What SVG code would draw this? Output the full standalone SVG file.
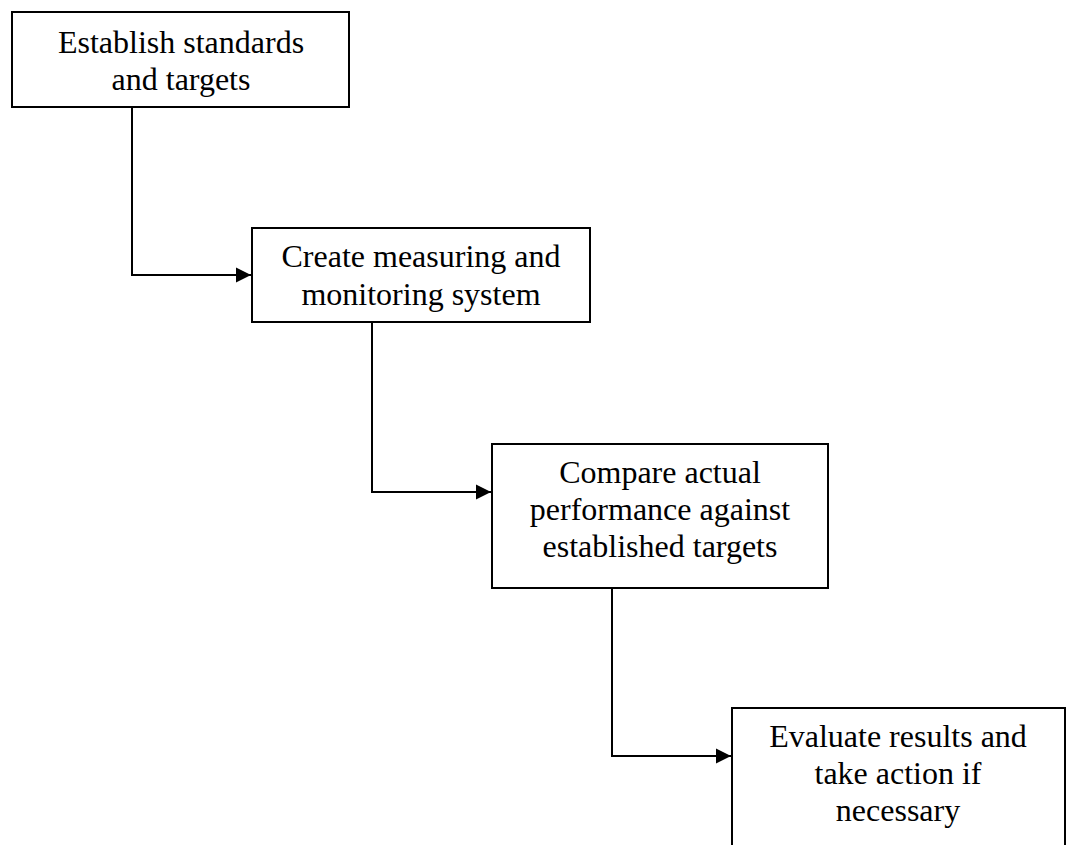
<svg xmlns="http://www.w3.org/2000/svg" width="1069" height="845" viewBox="0 0 1069 845">
  <style>
    .box { fill: #ffffff; stroke: #000000; stroke-width: 2; }
    .lbl { font-family: "Liberation Serif", "Times New Roman", serif; font-size: 32px; fill: #000000; text-anchor: middle; }
    .link { fill: none; stroke: #000000; stroke-width: 2; }
  </style>
  <defs>
    <marker id="arrow" markerUnits="userSpaceOnUse" markerWidth="16" markerHeight="16" refX="15" refY="8" orient="auto">
      <path d="M0,0.5 L15,8 L0,15.5 Z" fill="#000000"/>
    </marker>
  </defs>
  <rect width="1069" height="845" fill="#ffffff"/>

  <g id="connectors">
    <path class="link" d="M132,107 V275 H251" marker-end="url(#arrow)"/>
    <path class="link" d="M372,322 V492 H491" marker-end="url(#arrow)"/>
    <path class="link" d="M612,588 V756 H731" marker-end="url(#arrow)"/>
  </g>

  <g id="node-standards">
    <rect class="box" x="12" y="12" width="337" height="95"/>
    <text class="lbl" x="181" y="53">Establish standards</text>
    <text class="lbl" x="181" y="90">and targets</text>
  </g>

  <g id="node-measuring">
    <rect class="box" x="252" y="228" width="338" height="94"/>
    <text class="lbl" x="421" y="267">Create measuring and</text>
    <text class="lbl" x="421" y="305">monitoring system</text>
  </g>

  <g id="node-compare">
    <rect class="box" x="492" y="444" width="336" height="144"/>
    <text class="lbl" x="660" y="483">Compare actual</text>
    <text class="lbl" x="660" y="520">performance against</text>
    <text class="lbl" x="660" y="557">established targets</text>
  </g>

  <g id="node-evaluate">
    <rect class="box" x="732" y="708" width="333" height="150"/>
    <text class="lbl" x="898" y="747">Evaluate results and</text>
    <text class="lbl" x="898" y="784">take action if</text>
    <text class="lbl" x="898" y="821">necessary</text>
  </g>
</svg>
